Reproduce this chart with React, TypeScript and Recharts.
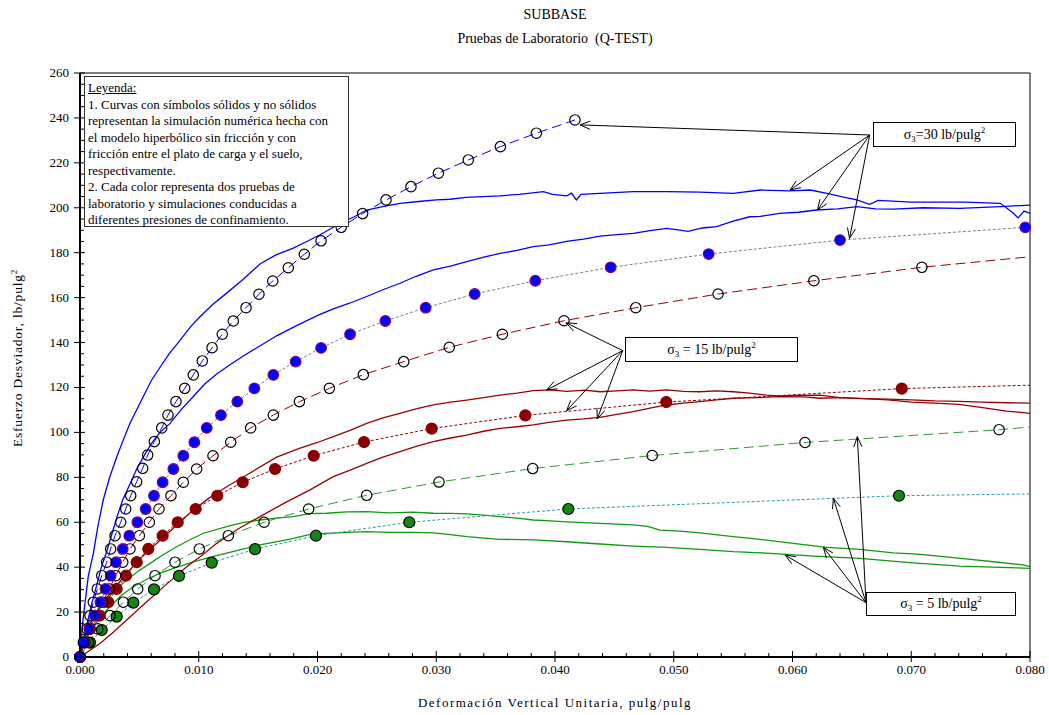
import React from 'react';
import { LineChart, Line, XAxis, YAxis, ReferenceLine } from 'recharts';

type Pt = [number, number];

// ---- laboratory tests (solid lines) ----
const blueLabA: Pt[] = [
  [0, 0], [0.0002, 14], [0.00042, 24], [0.0007, 36], [0.00112, 46], [0.0015, 58], [0.00196, 70],
  [0.0025, 80], [0.00309, 89], [0.0036, 96], [0.0042, 104], [0.00505, 113], [0.006, 123],
  [0.00674, 129], [0.0075, 135], [0.00842, 141], [0.0093, 147], [0.0101, 151.5], [0.0112, 157],
  [0.01235, 162], [0.0137, 168], [0.01516, 175], [0.0165, 179], [0.01796, 182], [0.0191, 185],
  [0.02021, 188], [0.02189, 193], [0.0231, 196], [0.02414, 199], [0.0255, 200.5], [0.02695, 202],
  [0.0285, 202.8], [0.03, 203.5], [0.03116, 203.8], [0.0325, 204.6], [0.03537, 205.3], [0.037, 206],
  [0.03902, 207.2], [0.0398, 206], [0.04098, 205.3], [0.0414, 206.5], [0.0418, 203.5], [0.0422, 206],
  [0.04379, 206.4], [0.0466, 207.2], [0.0494, 207.2], [0.0522, 207], [0.055, 206.4], [0.0573, 207.9],
  [0.0598, 207.5], [0.0615, 207.9], [0.0629, 206.4], [0.0645, 204.5], [0.0654, 203.5], [0.0665, 201.5],
  [0.0672, 203.3], [0.07, 202.5], [0.0745, 202.5], [0.0775, 202], [0.0785, 198], [0.079, 195.5],
  [0.0795, 198.5], [0.08, 197.5],
];
const blueLabB: Pt[] = [
  [0, 0], [0.0003, 8], [0.00056, 14], [0.001, 24], [0.00141, 32], [0.0018, 40], [0.00225, 47],
  [0.0027, 55], [0.00309, 62], [0.0036, 70], [0.00421, 77], [0.0048, 84], [0.00533, 89], [0.006, 95],
  [0.00674, 100], [0.00758, 104], [0.0085, 110], [0.00954, 116], [0.0105, 121.5], [0.01151, 126],
  [0.0126, 130], [0.01375, 134], [0.015, 138], [0.01656, 143], [0.0184, 148], [0.02021, 152.5],
  [0.02133, 155], [0.0227, 157.5], [0.02414, 160.5], [0.0255, 163.5], [0.02695, 166.4], [0.0283, 169.5],
  [0.02975, 172.3], [0.0312, 174], [0.03256, 176], [0.034, 178], [0.03537, 179.7], [0.0368, 181],
  [0.03817, 182.7], [0.0395, 183.5], [0.04098, 185], [0.0424, 186], [0.04379, 187.4], [0.0452, 188],
  [0.0466, 188.6], [0.048, 189.8], [0.0494, 190.8], [0.0505, 190], [0.0512, 189.5], [0.0524, 191],
  [0.0536, 191.6], [0.055, 194], [0.0564, 196], [0.0573, 196.2], [0.0589, 197.5], [0.0605, 198],
  [0.062, 199], [0.0638, 199.5], [0.0654, 200.5], [0.067, 199.5], [0.0685, 199.4], [0.071, 200],
  [0.0741, 199.7], [0.0775, 200.5], [0.08, 201.2],
];
const redLabA: Pt[] = [
  [0, 0], [0.00028, 7.6], [0.0008, 14], [0.00168, 22.4], [0.0028, 30], [0.00393, 37.3], [0.0053, 45],
  [0.00674, 52], [0.0082, 59], [0.00954, 65.4], [0.0108, 70.5], [0.01235, 75.8], [0.0145, 82.5],
  [0.01656, 89], [0.01853, 93], [0.02, 95.5], [0.02133, 98.1], [0.0228, 101], [0.02414, 104],
  [0.0255, 106.5], [0.02695, 108.5], [0.0283, 110.5], [0.02975, 112.2], [0.0312, 113.5], [0.03256, 114.4],
  [0.034, 115.5], [0.03537, 116.6], [0.0368, 117.5], [0.03817, 118.6], [0.03958, 118.9], [0.041, 118.3],
  [0.0425, 118.8], [0.04379, 118.1], [0.0452, 118.5], [0.0466, 118.9], [0.048, 118.4], [0.0494, 118.9],
  [0.0508, 118.3], [0.0522, 118.1], [0.0536, 118.5], [0.055, 118.1], [0.0564, 117.5], [0.0578, 116.6],
  [0.0589, 116.2], [0.0605, 116.5], [0.0623, 116.6], [0.064, 115.5], [0.066, 115], [0.068, 114.5],
  [0.07, 113.5], [0.072, 113], [0.074, 112.5], [0.076, 111], [0.078, 109.5], [0.08, 108.5],
];
const redLabB: Pt[] = [
  [0, 0], [0.00168, 6], [0.0028, 11], [0.00393, 16.5], [0.0055, 24], [0.0072, 32], [0.00898, 40.2],
  [0.0102, 45], [0.01151, 50.6], [0.0133, 57], [0.01516, 62.5], [0.0172, 68.5], [0.01937, 74.4],
  [0.02133, 80.3], [0.0228, 83.3], [0.02414, 86.2], [0.0255, 89], [0.02695, 91.4], [0.0283, 93.8],
  [0.02975, 95.9], [0.0312, 97.5], [0.03256, 98.8], [0.034, 100.5], [0.03537, 101.8], [0.0368, 102.5],
  [0.03817, 103.3], [0.0395, 104.5], [0.04098, 105.5], [0.0424, 106], [0.04379, 106.7], [0.0452, 108],
  [0.0466, 109.2], [0.048, 110.8], [0.0494, 112.2], [0.0508, 113], [0.0522, 113.7], [0.0536, 114.5],
  [0.055, 115.2], [0.057, 115.5], [0.0589, 115.9], [0.061, 115.8], [0.0623, 115.2], [0.064, 115.5],
  [0.066, 115], [0.068, 114.8], [0.07, 114.5], [0.072, 114], [0.074, 113.8], [0.076, 113.5],
  [0.078, 113.2], [0.08, 113],
];
const greenLabA: Pt[] = [
  [0, 0], [0.0003, 6], [0.00084, 15], [0.0015, 20.5], [0.00225, 25.4], [0.003, 30], [0.00393, 34.3],
  [0.0049, 38.2], [0.0059, 41.7], [0.007, 45.5], [0.00814, 49.1], [0.0093, 52.3], [0.01039, 55.1],
  [0.01235, 58], [0.0137, 59.8], [0.01516, 61], [0.0165, 61.8], [0.01796, 62.5], [0.0193, 63.8],
  [0.02077, 64], [0.0225, 64.6], [0.02414, 64.7], [0.026, 64.2], [0.028, 64.5], [0.02975, 64],
  [0.0312, 63.9], [0.03256, 63.7], [0.034, 63.2], [0.03537, 62.5], [0.0368, 61.8], [0.03817, 61],
  [0.04, 60.5], [0.04098, 60.2], [0.04379, 59.5], [0.0466, 58.8], [0.0478, 58.2], [0.04884, 56.5],
  [0.0505, 56], [0.0522, 55.3], [0.055, 53.6], [0.0565, 52.8], [0.0578, 52], [0.06007, 50.6],
  [0.06288, 48.8], [0.06568, 47.9], [0.06849, 46.4], [0.0705, 45.8], [0.0727, 44.7], [0.075, 43.5],
  [0.07691, 42.4], [0.07944, 41], [0.08, 40.2],
];
const greenLabB: Pt[] = [
  [0, 0], [0.0004, 7], [0.00112, 13.5], [0.0018, 18.5], [0.00253, 22.4], [0.0035, 27.5], [0.00449, 31.3],
  [0.0056, 34.5], [0.00674, 37.3], [0.0082, 40], [0.00954, 42.4], [0.011, 44.5], [0.01235, 46.2],
  [0.0137, 48], [0.01516, 49.9], [0.0165, 51.3], [0.01796, 52.8], [0.0193, 54.5], [0.02077, 55],
  [0.0225, 55.5], [0.02414, 55.8], [0.026, 55.5], [0.028, 55.5], [0.02975, 55.3], [0.0312, 54.5],
  [0.03256, 53.6], [0.03537, 52.4], [0.03817, 52.1], [0.04098, 51.3], [0.04379, 50.3], [0.0466, 49.4],
  [0.0494, 48.8], [0.0522, 47.9], [0.055, 46.9], [0.0573, 46.4], [0.06147, 45], [0.06568, 43.9],
  [0.0699, 42], [0.07411, 40.5], [0.0775, 39.9], [0.08, 39.5],
];

// ---- hyperbolic model simulations (symbols) ----
const blueOpen: Pt[] = [
  [0, 0], [0.00028, 6.5], [0.0006, 12.5], [0.00084, 18.4], [0.00112, 24.4], [0.00146, 30.3],
  [0.00183, 36.2], [0.00225, 42.2], [0.00258, 48.1], [0.00295, 54], [0.00343, 60], [0.00385, 65.9],
  [0.00427, 71.8], [0.00477, 78], [0.00528, 84], [0.0057, 89.9], [0.00626, 95.9], [0.00688, 102],
  [0.00741, 107.7], [0.00808, 113.7], [0.00882, 119.6], [0.00954, 125.6], [0.0103, 131.8],
  [0.01112, 137.7], [0.01198, 143.7], [0.01291, 149.6], [0.01398, 155.5], [0.01507, 161.5],
  [0.01623, 167.4], [0.01754, 173.3], [0.01889, 179.3], [0.0203, 185.3], [0.022, 191.3],
  [0.0238, 197.4], [0.02577, 203.5], [0.02787, 209.4], [0.03018, 215.4], [0.0327, 221.3],
  [0.0354, 227.2], [0.03843, 233.2], [0.04168, 239.1],
];
const blueFilled: Pt[] = [
  [0, 0], [0.00034, 6.5], [0.00079, 12.5], [0.00126, 18.4], [0.00172, 24.4], [0.00215, 30.3],
  [0.00258, 36.2], [0.00303, 42.2], [0.0036, 48.1], [0.00415, 54], [0.00483, 60], [0.00553, 65.9],
  [0.00623, 71.8], [0.00696, 77.8], [0.00786, 83.7], [0.0087, 89.6], [0.00963, 95.6], [0.01067, 102],
  [0.01187, 107.7], [0.01325, 113.7], [0.01468, 119.6], [0.01628, 125.6], [0.01816, 131.5],
  [0.0203, 137.6], [0.02274, 143.7], [0.02571, 149.6], [0.02911, 155.5], [0.03324, 161.6],
  [0.03834, 167.5], [0.04469, 173.5], [0.05294, 179.4], [0.064, 185.6], [0.0796, 191.3],
];
const redOpen: Pt[] = [
  [0, 0], [0.0004, 6.5], [0.0008, 12.5], [0.0013, 18.4], [0.0019, 24.4], [0.00247, 30.3], [0.003, 36.2],
  [0.0036, 42.2], [0.00421, 48.1], [0.005, 54], [0.00584, 60], [0.00665, 65.9], [0.00766, 71.8],
  [0.0087, 77.8], [0.00982, 83.7], [0.0112, 89.6], [0.01269, 95.6], [0.01437, 102], [0.01628, 107.7],
  [0.01848, 113.7], [0.021, 119.6], [0.02386, 125.7], [0.02726, 131.5], [0.0311, 137.9],
  [0.03557, 143.7], [0.04076, 149.7], [0.0468, 155.5], [0.05373, 161.6], [0.0618, 167.5], [0.0709, 173.5],
];
const redOpenEnd: Pt = [0.08, 178.2];
const redFilled: Pt[] = [
  [0, 0], [0.0004, 6.5], [0.00084, 12.5], [0.00163, 18.4], [0.00238, 24.4], [0.00309, 30.3],
  [0.00387, 36.2], [0.00477, 42.2], [0.00575, 48.1], [0.00696, 54], [0.00823, 60], [0.00974, 65.9],
  [0.01156, 71.8], [0.0137, 77.8], [0.01642, 83.7], [0.01968, 89.6], [0.02392, 95.7], [0.02962, 101.7],
  [0.0375, 107.6], [0.04937, 113.5], [0.0692, 119.5],
];
const redFilledEnd: Pt = [0.08, 121];
const greenOpen: Pt[] = [
  [0, 0], [0.0007, 6.5], [0.0015, 12.5], [0.00253, 18.4], [0.00365, 24.4], [0.00486, 30.3],
  [0.00632, 36.2], [0.008, 42.2], [0.01005, 48.1], [0.01249, 54], [0.0155, 60], [0.01925, 65.9],
  [0.02414, 72], [0.03023, 77.9], [0.03812, 83.9], [0.04819, 89.7], [0.06105, 95.5], [0.0774, 101.2],
];
const greenOpenEnd: Pt = [0.08, 102.4];
const greenFilled: Pt[] = [
  [0, 0], [0.00084, 6.4], [0.00183, 12], [0.00309, 18], [0.00449, 24.2], [0.00623, 30.1],
  [0.00834, 36.1], [0.01109, 42], [0.01474, 48], [0.01987, 54], [0.02773, 60], [0.04112, 65.9],
  [0.06897, 71.8],
];
const greenFilledEnd: Pt = [0.08, 72.6];

// ---- axes ----
const xMajor = [0, 0.01, 0.02, 0.03, 0.04, 0.05, 0.06, 0.07, 0.08];
const yMajor = [0, 20, 40, 60, 80, 100, 120, 140, 160, 180, 200, 220, 240, 260];
const xTicks = xMajor.flatMap((v, i) => (i === 0 ? [v] : [1, 2, 3, 4, 5].map((k) => xMajor[i - 1] + (k * (v - xMajor[i - 1])) / 5)));
const yTicks = yMajor.flatMap((v, i) => (i === 0 ? [v] : [1, 2, 3, 4].map((k) => yMajor[i - 1] + (k * (v - yMajor[i - 1])) / 4)));

// ---- annotation arrows (box anchor -> target) ----
const anchor30: Pt = [0.0665, 232.4];
const targets30: Pt[] = [[0.0421, 236.9], [0.0598, 207.9], [0.0621, 199], [0.0648, 186.4]];
const anchor15: Pt = [0.0457, 136.4];
const targets15: Pt[] = [[0.04093, 148.8], [0.0393, 118.9], [0.04098, 109.7], [0.04356, 106]];
const anchor5: Pt = [0.06619, 24.2];
const targets5: Pt[] = [[0.06546, 98.1], [0.06344, 70.7], [0.0626, 48.8], [0.05937, 45.4]];

const FONT = '"Liberation Serif", "Times New Roman", serif';

const toRows = (pts: Pt[], end?: Pt) =>
  pts.map(([x, y]) => ({ x, y })).concat(end ? [{ x: end[0], y: end[1], end: true } as any] : []);

const makeDot = (fill: string, stroke: string, r: number) => (p: any) => {
  if (p.payload?.end || p.cx == null) return <g key={`e${p.index}`} />;
  return <circle key={`d${p.index}`} cx={p.cx} cy={p.cy} r={r} fill={fill} stroke={stroke} strokeWidth={1.2} />;
};

const openDot = makeDot('none', '#000', 5.2);

const Arrow = (p: any) => {
  const { x1, y1, x2, y2 } = p;
  const a = Math.atan2(y1 - y2, x1 - x2);
  const L = 11;
  const s = 0.38;
  const h1 = `${x2 + L * Math.cos(a + s)},${y2 + L * Math.sin(a + s)}`;
  const h2 = `${x2 + L * Math.cos(a - s)},${y2 + L * Math.sin(a - s)}`;
  return (
    <g>
      <line x1={x1} y1={y1} x2={x2} y2={y2} stroke="#000" strokeWidth={1} />
      <polyline points={`${h1} ${x2},${y2} ${h2}`} fill="none" stroke="#000" strokeWidth={1} />
    </g>
  );
};

const XTick = (p: any) => {
  const { x, y, payload } = p;
  const v = payload.value as number;
  const major = Math.abs(Math.round(v * 100) - v * 100) < 1e-6;
  return (
    <g>
      <line x1={x} x2={x} y1={y - (major ? 6 : 4)} y2={y + (major ? 5 : 0)} stroke="#000" strokeWidth={1} />
      {major && (
        <text x={x} y={y + 17} textAnchor="middle" fontSize={13} fontFamily={FONT} fill="#000">
          {v.toFixed(3)}
        </text>
      )}
    </g>
  );
};

const YTick = (p: any) => {
  const { x, y, payload } = p;
  const v = payload.value as number;
  const major = v % 20 === 0;
  return (
    <g>
      <line x1={major ? x - 6 : x} x2={x + (major ? 5 : 4)} y1={y} y2={y} stroke="#000" strokeWidth={1} />
      {major && (
        <text x={x - 11} y={y + 4} textAnchor="end" fontSize={13} fontFamily={FONT} fill="#000">
          {v}
        </text>
      )}
    </g>
  );
};

const arrows = (anchor: Pt, targets: Pt[], key: string) =>
  targets.map((t, i) => (
    <ReferenceLine
      key={`${key}${i}`}
      segment={[{ x: anchor[0], y: anchor[1] }, { x: t[0], y: t[1] }]}
      shape={Arrow}
    />
  ));

const boxStyle: React.CSSProperties = {
  position: 'absolute',
  background: '#fff',
  border: '1px solid #000',
  fontFamily: FONT,
  fontSize: 14,
  display: 'flex',
  alignItems: 'center',
  justifyContent: 'center',
  boxSizing: 'border-box',
  whiteSpace: 'nowrap',
};

const legendLines = [
  '1. Curvas con símbolos sólidos y no sólidos',
  'representan la simulación numérica hecha con',
  'el modelo hiperbólico sin fricción y con',
  'fricción entre el plato de carga y el suelo,',
  'respectivamente.',
  '2. Cada color representa dos pruebas de',
  'laboratorio y simulaciones conducidas a',
  'diferentes presiones de confinamiento.',
];

export default function App() {
  return (
    <div style={{ position: 'absolute', left: 0, top: 0, width: 1049, height: 715, background: '#fff' }}>
      <LineChart width={1049} height={715} margin={{ top: 73, right: 19, bottom: 28, left: 20 }}>
        <XAxis
          type="number"
          dataKey="x"
          domain={[0, 0.08]}
          ticks={xTicks}
          interval={0}
          tickSize={0}
          tickMargin={0}
          tickLine={false}
          tick={XTick}
          axisLine={{ stroke: '#000', strokeWidth: 2 }}
          height={30}
        />
        <YAxis
          type="number"
          dataKey="y"
          domain={[0, 260]}
          ticks={yTicks}
          interval={0}
          tickSize={0}
          tickMargin={0}
          tickLine={false}
          tick={YTick}
          axisLine={{ stroke: '#000', strokeWidth: 2 }}
          width={60}
        />
        <ReferenceLine y={260} stroke="#000" strokeWidth={1} />
        <ReferenceLine x={0.08} stroke="#000" strokeWidth={1} />

        <Line data={toRows(greenLabA)} dataKey="y" stroke="#119911" strokeWidth={1.3} dot={false} activeDot={false} isAnimationActive={false} />
        <Line data={toRows(greenLabB)} dataKey="y" stroke="#119911" strokeWidth={1.3} dot={false} activeDot={false} isAnimationActive={false} />
        <Line data={toRows(redLabA)} dataKey="y" stroke="#990000" strokeWidth={1.3} dot={false} activeDot={false} isAnimationActive={false} />
        <Line data={toRows(redLabB)} dataKey="y" stroke="#990000" strokeWidth={1.3} dot={false} activeDot={false} isAnimationActive={false} />
        <Line data={toRows(blueLabA)} dataKey="y" stroke="#0000ff" strokeWidth={1.3} dot={false} activeDot={false} isAnimationActive={false} />
        <Line data={toRows(blueLabB)} dataKey="y" stroke="#0000ff" strokeWidth={1.3} dot={false} activeDot={false} isAnimationActive={false} />

        <Line data={toRows(greenFilled, greenFilledEnd)} dataKey="y" stroke="#2e9aa6" strokeWidth={1} strokeDasharray="3 2" dot={makeDot('#118811', '#000', 5.5)} activeDot={false} isAnimationActive={false} />
        <Line data={toRows(greenOpen, greenOpenEnd)} dataKey="y" stroke="#33993a" strokeWidth={1} strokeDasharray="10 5" dot={openDot} activeDot={false} isAnimationActive={false} />
        <Line data={toRows(redFilled, redFilledEnd)} dataKey="y" stroke="#990000" strokeWidth={1} strokeDasharray="3 2" dot={makeDot('#880000', '#880000', 5.5)} activeDot={false} isAnimationActive={false} />
        <Line data={toRows(redOpen, redOpenEnd)} dataKey="y" stroke="#990000" strokeWidth={1} strokeDasharray="10 5" dot={openDot} activeDot={false} isAnimationActive={false} />
        <Line data={toRows(blueFilled)} dataKey="y" stroke="#808080" strokeWidth={1} strokeDasharray="3 2" dot={makeDot('#0000ff', '#800080', 5.3)} activeDot={false} isAnimationActive={false} />
        <Line data={toRows(blueOpen)} dataKey="y" stroke="#0000ff" strokeWidth={1} strokeDasharray="10 5" dot={openDot} activeDot={false} isAnimationActive={false} />

        {arrows(anchor30, targets30, 'a30')}
        {arrows(anchor15, targets15, 'a15')}
        {arrows(anchor5, targets5, 'a5')}
      </LineChart>

      <svg width={1049} height={715} style={{ position: 'absolute', left: 0, top: 0, pointerEvents: 'none' }}>
        <text x={555} y={19} textAnchor="middle" fontSize={14} fontFamily={FONT}>SUBBASE</text>
        <text x={555} y={43} textAnchor="middle" fontSize={14} fontFamily={FONT} style={{ whiteSpace: 'pre' }}>
          Pruebas de Laboratorio  (Q-TEST)
        </text>
        <text x={555} y={707} textAnchor="middle" fontSize={13} fontFamily={FONT} letterSpacing={1.5}>
          Deformación Vertical Unitaria, pulg/pulg
        </text>
        <text transform="translate(22,358) rotate(-90)" textAnchor="middle" fontSize={13.5} fontFamily={FONT} letterSpacing={0.8}>
          Esfuerzo Desviador, lb/pulg
          <tspan fontSize={9} dy={-5}>2</tspan>
        </text>
      </svg>

      <div
        style={{
          position: 'absolute', left: 84, top: 76, width: 265, height: 151, boxSizing: 'border-box',
          border: '1.5px solid #333', background: '#fff', fontFamily: FONT, fontSize: 13,
          lineHeight: '16.5px', padding: '3px 0 0 3px', whiteSpace: 'nowrap',
        }}
      >
        <div style={{ textDecoration: 'underline' }}>Leyenda:</div>
        {legendLines.map((l) => (
          <div key={l}>{l}</div>
        ))}
      </div>

      <div style={{ ...boxStyle, left: 873, top: 122, width: 143, height: 25 }}>
        <span>σ<sub style={{ fontSize: 9 }}>3</sub>=30 lb/pulg<sup style={{ fontSize: 9 }}>2</sup></span>
      </div>
      <div style={{ ...boxStyle, left: 625, top: 337, width: 173, height: 25 }}>
        <span>σ<sub style={{ fontSize: 9 }}>3</sub> = 15 lb/pulg<sup style={{ fontSize: 9 }}>2</sup></span>
      </div>
      <div style={{ ...boxStyle, left: 866, top: 592, width: 150, height: 24 }}>
        <span>σ<sub style={{ fontSize: 9 }}>3</sub> = 5 lb/pulg<sup style={{ fontSize: 9 }}>2</sup></span>
      </div>
    </div>
  );
}
